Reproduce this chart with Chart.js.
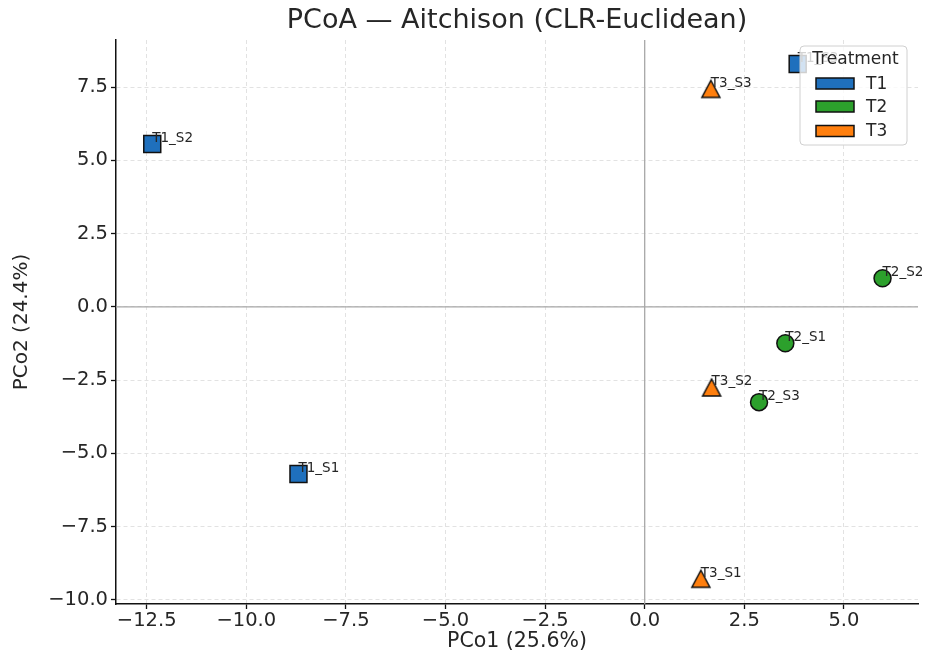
<!DOCTYPE html>
<html>
<head>
<meta charset="utf-8">
<script src="https://cdn.jsdelivr.net/npm/chart.js@4"></script>
<style>
  html, body { margin: 0; padding: 0; background: #fff; }
  #wrap { width: 927px; height: 655px; }
</style>
</head>
<body>
<div id="wrap"><canvas id="pcoa" width="927" height="655"></canvas></div>
<script>
const TITLE = 'PCoA — Aitchison (CLR-Euclidean)';
const X_LABEL = 'PCo1 (25.6%)';
const Y_LABEL = 'PCo2 (24.4%)';
const LEGEND_TITLE = 'Treatment';

const treatments = ['T1', 'T2', 'T3'];
const samplesT1 = ['T1_S1', 'T1_S2', 'T1_S3'];
const samplesT2 = ['T2_S1', 'T2_S2', 'T2_S3'];
const samplesT3 = ['T3_S1', 'T3_S2', 'T3_S3'];
const pco1T1 = [-8.69, -12.36, 3.84];
const pco2T1 = [-5.70, 5.56, 8.29];
const pco1T2 = [3.53, 5.97, 2.87];
const pco2T2 = [-1.24, 0.98, -3.25];
const pco1T3 = [1.41, 1.68, 1.66];
const pco2T3 = [-9.28, -2.75, 7.44];

const xTicks = [-12.5, -10.0, -7.5, -5.0, -2.5, 0.0, 2.5, 5.0];
const yTicks = [-10.0, -7.5, -5.0, -2.5, 0.0, 2.5, 5.0, 7.5];
const xRange = [-13.27, 6.86];
const yRange = [-10.14, 9.11];

const COLORS = ['#1f70bd', '#2ca02c', '#ff7f0e'];
const FONT = "'DejaVu Sans', sans-serif";

function fmt(v) {
  const s = Math.abs(v).toFixed(1);
  return v < 0 ? '\u2212' + s : s;
}

function triangleMarker(fill) {
  const w = 18, h = 17, pad = 2;
  const c = document.createElement('canvas');
  c.width = w + pad * 2;
  c.height = h + pad * 2;
  const g = c.getContext('2d');
  g.beginPath();
  g.moveTo(pad + w / 2, pad);
  g.lineTo(pad + w, pad + h);
  g.lineTo(pad, pad + h);
  g.closePath();
  g.fillStyle = fill;
  g.fill();
  g.lineWidth = 1.5;
  g.lineJoin = 'miter';
  g.strokeStyle = '#111';
  g.stroke();
  return c;
}

function points(xs, ys) {
  return xs.map((x, i) => ({ x, y: ys[i] }));
}

const sampleNames = [samplesT1, samplesT2, samplesT3];

const datasets = [
  {
    label: treatments[0],
    data: points(pco1T1, pco2T1),
    pointStyle: 'rect',
    pointRadius: 12,
    pointHoverRadius: 12,
    backgroundColor: COLORS[0],
    borderColor: '#111',
    borderWidth: 1.5,
  },
  {
    label: treatments[1],
    data: points(pco1T2, pco2T2),
    pointStyle: 'circle',
    pointRadius: 8.5,
    pointHoverRadius: 8.5,
    backgroundColor: COLORS[1],
    borderColor: '#111',
    borderWidth: 1.5,
  },
  {
    label: treatments[2],
    data: points(pco1T3, pco2T3),
    pointStyle: triangleMarker(COLORS[2]),
    pointRadius: 10,
    backgroundColor: COLORS[2],
    borderColor: '#111',
    borderWidth: 1.5,
  },
];

function roundRect(ctx, x, y, w, h, r) {
  ctx.beginPath();
  ctx.moveTo(x + r, y);
  ctx.lineTo(x + w - r, y);
  ctx.quadraticCurveTo(x + w, y, x + w, y + r);
  ctx.lineTo(x + w, y + h - r);
  ctx.quadraticCurveTo(x + w, y + h, x + w - r, y + h);
  ctx.lineTo(x + r, y + h);
  ctx.quadraticCurveTo(x, y + h, x, y + h - r);
  ctx.lineTo(x, y + r);
  ctx.quadraticCurveTo(x, y, x + r, y);
  ctx.closePath();
}

const decorations = {
  id: 'decorations',
  beforeDraw(chart) {
    const ctx = chart.ctx;
    ctx.save();
    ctx.fillStyle = '#fff';
    ctx.fillRect(0, 0, chart.width, chart.height);
    ctx.restore();
  },
  beforeDatasetsDraw(chart) {
    // solid zero lines through the origin
    const { ctx, chartArea: a, scales } = chart;
    const x0 = scales.x.getPixelForValue(0);
    const y0 = scales.y.getPixelForValue(0);
    ctx.save();
    ctx.strokeStyle = '#a8a8a8';
    ctx.lineWidth = 1.3;
    ctx.beginPath();
    ctx.moveTo(x0, a.top);
    ctx.lineTo(x0, a.bottom);
    ctx.moveTo(a.left, y0);
    ctx.lineTo(a.right, y0);
    ctx.stroke();
    ctx.restore();
  },
  afterDatasetsDraw(chart) {
    const { ctx, chartArea: a } = chart;
    ctx.save();

    // sample labels
    ctx.font = '13.5px ' + FONT;
    ctx.fillStyle = '#262626';
    ctx.textAlign = 'left';
    ctx.textBaseline = 'alphabetic';
    chart.data.datasets.forEach((ds, di) => {
      chart.getDatasetMeta(di).data.forEach((el, i) => {
        ctx.fillText(sampleNames[di][i], el.x, el.y - 2);
      });
    });

    // title
    ctx.font = '27px ' + FONT;
    ctx.fillStyle = '#262626';
    ctx.textAlign = 'center';
    ctx.textBaseline = 'middle';
    ctx.fillText(TITLE, (a.left + a.right) / 2, 21);

    // legend box
    const lx = 800, ly = 46, lw = 107, lh = 99;
    ctx.globalAlpha = 0.8;
    roundRect(ctx, lx, ly, lw, lh, 4);
    ctx.fillStyle = '#fff';
    ctx.fill();
    ctx.globalAlpha = 1;
    ctx.strokeStyle = '#d0d0d0';
    ctx.lineWidth = 1;
    ctx.stroke();

    ctx.font = '17px ' + FONT;
    ctx.fillStyle = '#262626';
    ctx.textAlign = 'center';
    ctx.fillText(LEGEND_TITLE, lx + lw / 2 + 2, 60);

    const rows = [83.5, 106.5, 131];
    treatments.forEach((t, i) => {
      ctx.fillStyle = COLORS[i];
      ctx.fillRect(816, rows[i] - 5.5, 38, 11);
      ctx.strokeStyle = '#111';
      ctx.lineWidth = 1.5;
      ctx.strokeRect(816, rows[i] - 5.5, 38, 11);
      ctx.fillStyle = '#262626';
      ctx.textAlign = 'left';
      ctx.fillText(t, 866, rows[i] + 1);
    });
    ctx.restore();
  },
};

const gridStyle = {
  color: '#e2e2e2',
  lineWidth: 1,
  tickColor: '#111',
  tickLength: 5,
  tickWidth: 1.3,
  tickBorderDash: [],
};

new Chart(document.getElementById('pcoa'), {
  type: 'scatter',
  data: { datasets },
  plugins: [decorations],
  options: {
    responsive: false,
    animation: false,
    events: [],
    layout: { autoPadding: false, padding: { top: 40, right: 9, bottom: 0, left: 0 } },
    plugins: {
      legend: { display: false },
      tooltip: { enabled: false },
      title: { display: false },
    },
    scales: {
      x: {
        type: 'linear',
        min: xRange[0],
        max: xRange[1],
        afterBuildTicks: (scale) => { scale.ticks = xTicks.map((v) => ({ value: v })); },
        afterFit: (scale) => {
          scale.height = 51;
          scale.paddingLeft = 0;
          scale.paddingRight = 0;
        },
        grid: gridStyle,
        border: { display: true, color: '#111', width: 1.5, dash: [4, 3] },
        ticks: {
          autoSkip: false,
          maxRotation: 0,
          padding: 0,
          color: '#262626',
          font: { family: FONT, size: 19.5 },
          callback: (v) => fmt(v),
        },
        title: {
          display: true,
          text: X_LABEL,
          color: '#262626',
          font: { family: FONT, size: 20.5 },
          padding: { top: 0, bottom: 1 },
        },
      },
      y: {
        type: 'linear',
        min: yRange[0],
        max: yRange[1],
        afterBuildTicks: (scale) => { scale.ticks = yTicks.map((v) => ({ value: v })); },
        afterFit: (scale) => {
          scale.width = 116;
          scale.paddingTop = 0;
          scale.paddingBottom = 0;
        },
        grid: gridStyle,
        border: { display: true, color: '#111', width: 1.5, dash: [4, 3] },
        ticks: {
          autoSkip: false,
          padding: 3,
          color: '#262626',
          font: { family: FONT, size: 19.5 },
          callback: (v) => fmt(v),
        },
        title: {
          display: true,
          text: Y_LABEL,
          color: '#262626',
          font: { family: FONT, size: 20 },
          padding: { top: 10, bottom: 0 },
        },
      },
    },
  },
});
</script>
</body>
</html>
